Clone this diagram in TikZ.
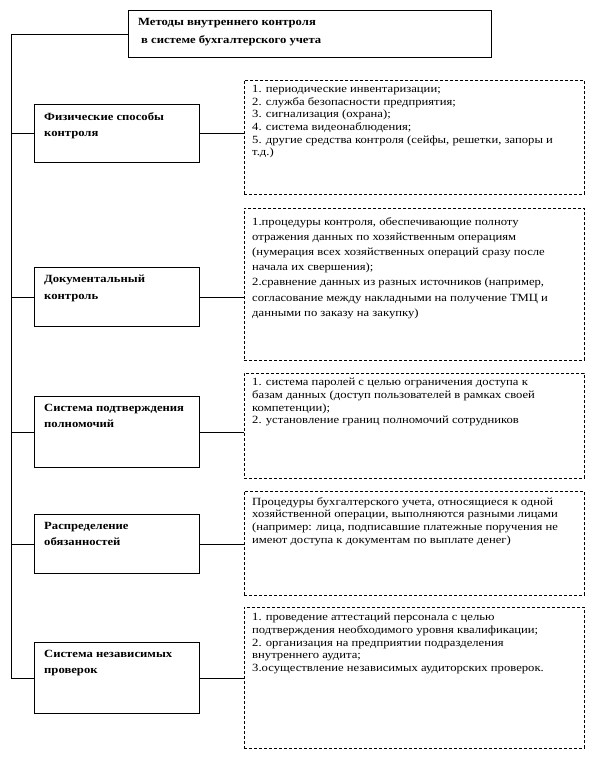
\documentclass[tikz,border=0pt]{standalone}
\usepackage{fontspec}
\setmainfont[FakeStretch=1.15]{Liberation Serif}

\tikzset{
  solidbox/.style={draw,line width=0.9pt,anchor=north west,inner sep=0pt},
  dashbox/.style={draw,line width=0.6pt,dash pattern=on 3pt off 2pt,anchor=north west,inner sep=0pt,minimum width=340pt},
  headtext/.style={anchor=north west,inner sep=0pt,align=left,font=\fontsize{11}{16.5}\selectfont\bfseries},
  listtext/.style={anchor=north west,inner sep=0pt,align=left,font=\fontsize{11}{12.7}\selectfont},
  link/.style={line width=0.6pt}
}

\begin{document}
\begin{tikzpicture}[x=1pt,y=-1pt]
  \useasboundingbox (0,0) rectangle (594,759);
  \coordinate (spine) at (11,0);

  % main box
  \node[solidbox,line width=1.1pt,minimum width=363pt,minimum height=47pt] (methods) at (128,10) {};
  \node[headtext,font=\fontsize{11}{18.5}\selectfont\bfseries] (methodst) at ([shift={(10,8)}]methods.north west) {Методы внутреннего контроля\\\hspace{3pt}в системе бухгалтерского учета};

  % left boxes
  \node[solidbox,minimum width=165pt,minimum height=58pt] (phys) at (34,104) {};
  \node[solidbox,minimum width=165pt,minimum height=59pt] (docs) at (34,267) {};
  \node[solidbox,minimum width=165pt,minimum height=71pt] (auth) at (34,396) {};
  \node[solidbox,minimum width=165pt,minimum height=59pt] (duty) at (34,514) {};
  \node[solidbox,minimum width=165pt,minimum height=71pt] (audit) at (34,642) {};

  \node[headtext] (physt) at ([shift={(10,8)}]phys.north west) {Физические способы\\контроля};
  \node[headtext] (docst) at ([shift={(10,8)}]docs.north west) {Документальный\\контроль};
  \node[headtext] (autht) at ([shift={(10,8)}]auth.north west) {Система подтверждения\\полномочий};
  \node[headtext] (dutyt) at ([shift={(10,8)}]duty.north west) {Распределение\\обязанностей};
  \node[headtext] (auditt) at ([shift={(10,8)}]audit.north west) {Система независимых\\проверок};

  % dashed boxes
  \node[dashbox,minimum height=114pt] (physd) at (244,80) {};
  \node[dashbox,minimum height=152pt] (docsd) at (244,208) {};
  \node[dashbox,minimum height=105pt] (authd) at (244,373) {};
  \node[dashbox,minimum height=104pt] (dutyd) at (244,491) {};
  \node[dashbox,minimum height=141pt] (auditd) at (244,607) {};

  \node[listtext] (physl) at ([shift={(8,5)}]physd.north west) {1. периодические  инвентаризации;\\2. служба безопасности  предприятия;\\3. сигнализация  (охрана);\\4. система видеонаблюдения;\\5. другие средства контроля (сейфы, решетки, запоры и\\т.д.)};
  \node[listtext,font=\fontsize{11}{15.2}\selectfont] (docsl) at ([shift={(8,9)}]docsd.north west) {1.процедуры контроля, обеспечивающие  полноту\\отражения данных  по хозяйственным операциям\\(нумерация всех хозяйственных операций  сразу после\\начала их свершения);\\2.сравнение данных из разных источников  (например,\\согласование между накладными на получение ТМЦ и\\данными по заказу на закупку)};
  \node[listtext] (authl) at ([shift={(8,5)}]authd.north west) {1. система паролей  с целью ограничения  доступа  к\\базам данных  (доступ пользователей в рамках своей\\компетенции);\\2. установление  границ  полномочий сотрудников};
  \node[listtext] (dutyl) at ([shift={(8,6)}]dutyd.north west) {Процедуры бухгалтерского  учета, относящиеся к одной\\хозяйственной операции,  выполняются разными лицами\\(например: лица, подписавшие платежные поручения не\\имеют доступа к документам  по выплате денег)};
  \node[listtext] (auditl) at ([shift={(8,6)}]auditd.north west) {1. проведение  аттестаций  персонала с целью\\подтверждения необходимого уровня квалификации;\\2. организация на предприятии  подразделения\\внутреннего аудита;\\3.осуществление  независимых аудиторских  проверок.};

  % connectors
  \draw[link] (methods.west) -- (methods.west -| spine) -- (spine |- audit.west) -- (audit.west);
  \foreach \n in {phys,docs,auth,duty} \draw[link] (\n.west -| spine) -- (\n.west);
  \foreach \n in {phys,docs,auth,duty,audit} \draw[link] (\n.east) -- (\n.east -| \n d.west);
\end{tikzpicture}
\end{document}
